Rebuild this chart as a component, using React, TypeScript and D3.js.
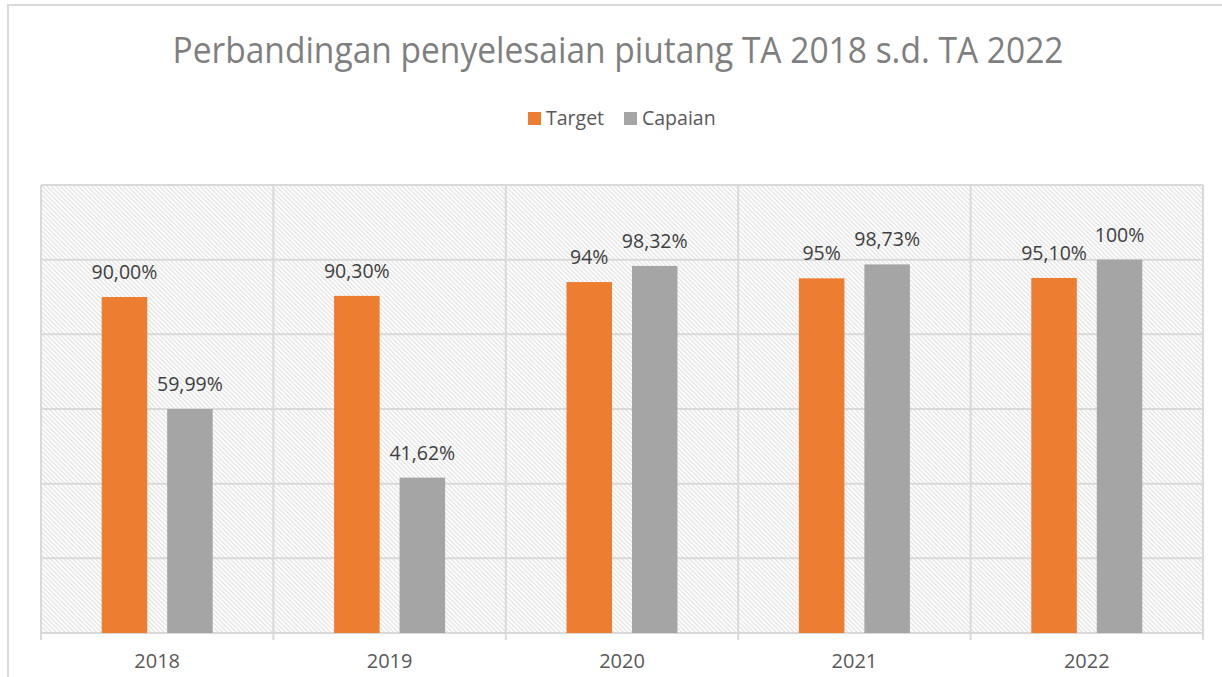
import React from "react";
import * as d3 from "d3";

const years = ["2018", "2019", "2020", "2021", "2022"];
const seriesNames = ["Target", "Capaian"];
const targetValues = [90.0, 90.3, 94, 95, 95.1];
const capaianValues = [59.99, 41.62, 98.32, 98.73, 100];
const targetLabels = ["90,00%", "90,30%", "94%", "95%", "95,10%"];
const capaianLabels = ["59,99%", "41,62%", "98,32%", "98,73%", "100%"];
const yTicks = [0, 20, 40, 60, 80, 100, 120];
const colors = ["#ED7D31", "#A5A5A5"];

const W = 1222;
const H = 677;
const plot = { left: 41, right: 1203, top: 185, bottom: 633 };

export default function App() {
  const x = d3.scaleBand<string>().domain(years).range([plot.left, plot.right]).padding(0);
  const bw = x.bandwidth();
  const outer = 60.7;
  const inner = d3
    .scaleBand<string>()
    .domain(seriesNames)
    .range([outer, bw - outer])
    .paddingInner(0.305)
    .paddingOuter(0);
  const y = d3.scaleLinear().domain([0, 120]).range([plot.bottom, plot.top]);
  const series = [
    { name: seriesNames[0], values: targetValues, labels: targetLabels, color: colors[0] },
    { name: seriesNames[1], values: capaianValues, labels: capaianLabels, color: colors[1] },
  ];
  const font = "'Open Sans', sans-serif";
  const grid = "#d9d9d9";

  return (
    <svg width={W} height={H} style={{ position: "absolute", left: 0, top: 0 }}>
      <defs>
        <pattern id="hatch" patternUnits="userSpaceOnUse" width={4.5} height={4.5}>
          <rect width={4.5} height={4.5} fill="#ffffff" />
          <path d="M-1,-1 L5.5,5.5 M-1,3.5 L1,5.5 M3.5,-1 L5.5,1" stroke="#dadada" strokeWidth={1} />
        </pattern>
      </defs>
      <rect x={0} y={0} width={W} height={H} fill="#ffffff" />
      <rect x={8} y={5} width={W + 20} height={H + 20} fill="none" stroke="#d9d9d9" strokeWidth={2} />
      <text
        x={618}
        y={63}
        textAnchor="middle"
        fontFamily={font}
        fontSize={36}
        fill="#7f7f7f"
        textLength={891}
        lengthAdjust="spacingAndGlyphs"
      >
        Perbandingan penyelesaian piutang TA 2018 s.d. TA 2022
      </text>
      {/* legend */}
      <g fontFamily={font} fontSize={19.5} fill="#595959">
        <rect x={528} y={112} width={13} height={13} fill={colors[0]} />
        <text x={546} y={125}>{seriesNames[0]}</text>
        <rect x={624} y={112} width={13} height={13} fill={colors[1]} />
        <text x={642} y={125}>{seriesNames[1]}</text>
      </g>
      {/* plot background */}
      <rect
        x={plot.left}
        y={plot.top}
        width={plot.right - plot.left}
        height={plot.bottom - plot.top}
        fill="url(#hatch)"
      />
      {/* horizontal gridlines */}
      {yTicks.map((t) => (
        <line key={t} x1={plot.left} x2={plot.right} y1={y(t)} y2={y(t)} stroke={grid} strokeWidth={2} />
      ))}
      {/* vertical gridlines and ticks */}
      {[...years.map((c) => x(c) as number), plot.right].map((xx, i) => (
        <line key={i} x1={xx} x2={xx} y1={plot.top} y2={plot.bottom + 7} stroke={grid} strokeWidth={2} />
      ))}
      {/* bars */}
      {series.map((s) =>
        years.map((yr, i) => {
          const bx = (x(yr) as number) + (inner(s.name) as number);
          const by = y(s.values[i]);
          return (
            <g key={s.name + yr}>
              <rect x={bx} y={by} width={inner.bandwidth()} height={plot.bottom - by} fill={s.color} />
              <text
                x={bx + inner.bandwidth() / 2}
                y={by - 18}
                textAnchor="middle"
                fontFamily={font}
                fontSize={19.5}
                fill="#404040"
              >
                {s.labels[i]}
              </text>
            </g>
          );
        })
      )}
      {/* axis labels */}
      {years.map((yr) => (
        <text
          key={yr}
          x={(x(yr) as number) + bw / 2}
          y={668}
          textAnchor="middle"
          fontFamily={font}
          fontSize={20}
          fill="#595959"
        >
          {yr}
        </text>
      ))}
    </svg>
  );
}
